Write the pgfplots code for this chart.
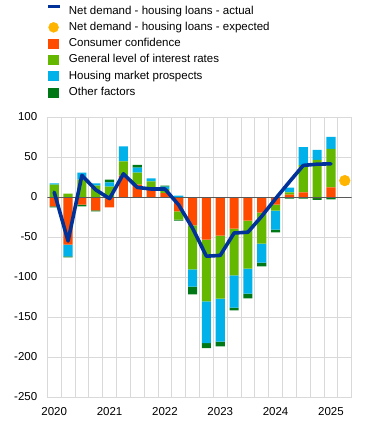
\documentclass[border=0pt]{standalone}
\usepackage{pgfplots}
\pgfplotsset{compat=1.18}
\usepackage{pgfplotstable}
\usepackage{fontspec}
\setmainfont{Liberation Sans}
\definecolor{cOrange}{HTML}{FF4B00}
\definecolor{cGreen}{HTML}{65B800}
\definecolor{cBlue}{HTML}{00B1EA}
\definecolor{cDark}{HTML}{007816}
\definecolor{cLine}{HTML}{003299}
\definecolor{cDot}{HTML}{FFB400}
\definecolor{cGrid}{HTML}{D9D9D9}

% x: quarter index (0 = 2020 Q1), O: consumer confidence, G: interest rates, B: housing market, D: other
\pgfplotstableread{
x O G B D
0 0 15.4 1.7 0
1 0 4.2 0 0
2 0 21.7 8.7 0
3 0 14.2 2.9 0
4 0 12.9 5.4 3.3
5 26.7 17.9 18.7 0
6 15.4 15 6.2 3.7
7 12.5 7 3.7 0
8 5 5 2.9 1.2
9 0 0 1.7 0
10 0 0 0 0
11 0 0 0 0
12 0 0 0 0
13 0 0 0 0
14 0 0 0 0
15 0 0 0 0
16 0 0 0 0
17 2.9 2.9 5.8 0
18 5.8 34 22.5 0
19 0 46.5 12.5 0
20 12 48.3 15 0
}\postab
\pgfplotstableread{
x O G B D
0 -11.7 0 0 -1.3
1 -59.6 0 -14.6 -1.3
2 -9.6 0 0 -2
3 -16.7 0 0 -1.2
4 -12.9 0 0 0
5 0 0 0 0
6 0 0 0 0
7 0 0 0 0
8 0 0 0 0
9 -18 -10.4 0 -1.2
10 -35.6 -54.8 -21.7 -9.6
11 -53.3 -77.1 -52.1 -6.5
12 -48.3 -78.7 -53.8 -5.9
13 -39.6 -58.3 -40.4 -3.4
14 -29.6 -60 -31.2 -5.9
15 -19.6 -38.7 -23.7 -4.7
16 -9.6 -7.5 -23.7 -3.3
17 0 0 0 -2
18 0 0 0 -2
19 -1.5 0 0 -2
20 0 0 0 -3
}\negtab
\pgfplotstableread{
x y
0 6
1 -55
2 27
3 9
4 -2
5 29
6 12
7 10
8 10
9 -10
10 -39
11 -74
12 -73
13 -45
14 -44
15 -24
16 -2
17 19
18 39.5
19 41
20 41.5
}\linetab

\pgfplotsset{
  base/.style={
    scale only axis, width=304.4pt, height=280pt,
    at={(0,0)}, anchor=south west,
    xmin=-0.5, xmax=21.5, ymin=-250, ymax=100,
    axis line style={draw=none},
    tick style={draw=none},
  },
  barst/.style={ybar stacked, bar width=0.66},
}

\begin{document}
\fontsize{11.5}{13.5}\selectfont
\begin{tikzpicture}
\useasboundingbox (-47.3pt,-27pt) rectangle (324.7pt,397pt);
% main axis: grid, ticks, legend, positive parts
\begin{axis}[base, barst,
  ytick={-250,-200,...,100},
  ymajorgrids,
  xtick={0,4,8,12,16,20},
  xticklabels={2020,2021,2022,2023,2024,2025},
  minor xtick={-0.5,0.5,...,21.5},
  xminorgrids, xmajorgrids=false,
  grid style={draw=cGrid, line width=0.9pt},
  minor grid style={draw=cGrid, line width=0.9pt},
  /pgf/number format/assume math mode=true,
  ticklabel style={font=\fontsize{11.5}{13.5}\selectfont},
  yticklabel style={xshift=-6pt},
  xticklabel style={yshift=-6pt},
  legend style={at={(rel axis cs:0,1)}, anchor=north west, xshift=0.7pt, yshift=114.3pt,
    draw=none, fill=none, inner sep=0pt, row sep=0pt,
    font=\fontsize{11.5}{13.5}\selectfont,
    nodes={inner sep=0pt, text height=8.3pt, text depth=2.4pt}},
  legend cell align=left,
]
\addlegendimage{legend image code/.code={\path[draw=none,fill=none] (0pt,-8.15pt) rectangle (20.5pt,8.15pt);\fill[cLine] (0pt,3.4pt) rectangle (10.5pt,6pt);}}
\addlegendentry{Net demand - housing loans - actual}
\addlegendimage{legend image code/.code={\path[draw=none,fill=none] (0pt,-8.15pt) rectangle (20.5pt,8.15pt);\fill[cDot] (5.2pt,0pt) circle (5pt);}}
\addlegendentry{Net demand - housing loans - expected}
\addplot[draw=none, fill=cOrange, legend image code/.code={\path[draw=none,fill=none] (0pt,-8.15pt) rectangle (20.5pt,8.15pt);\fill[cOrange] (0pt,-5pt) rectangle (10.5pt,5pt);}] table[x=x,y=O]{\postab};
\addlegendentry{Consumer confidence}
\addplot[draw=none, fill=cGreen, legend image code/.code={\path[draw=none,fill=none] (0pt,-8.15pt) rectangle (20.5pt,8.15pt);\fill[cGreen] (0pt,-5pt) rectangle (10.5pt,5pt);}] table[x=x,y=G]{\postab};
\addlegendentry{General level of interest rates}
\addplot[draw=none, fill=cBlue, legend image code/.code={\path[draw=none,fill=none] (0pt,-8.15pt) rectangle (20.5pt,8.15pt);\fill[cBlue] (0pt,-5pt) rectangle (10.5pt,5pt);}] table[x=x,y=B]{\postab};
\addlegendentry{Housing market prospects}
\addplot[draw=none, fill=cDark, legend image code/.code={\path[draw=none,fill=none] (0pt,-8.15pt) rectangle (20.5pt,8.15pt);\fill[cDark] (0pt,-5pt) rectangle (10.5pt,5pt);}] table[x=x,y=D]{\postab};
\addlegendentry{Other factors}
\end{axis}
% negative parts
\begin{axis}[base, barst, hide axis]
\addplot[draw=none, fill=cOrange] table[x=x,y=O]{\negtab};
\addplot[draw=none, fill=cGreen] table[x=x,y=G]{\negtab};
\addplot[draw=none, fill=cBlue] table[x=x,y=B]{\negtab};
\addplot[draw=none, fill=cDark] table[x=x,y=D]{\negtab};
\end{axis}
% zero line, net demand line and expectation
\begin{axis}[base, hide axis]
\addplot[draw=black!65, line width=0.9pt, forget plot] coordinates {(-0.5,0) (21.5,0)};
\addplot[cLine, line width=3.6pt, line join=round, line cap=round, mark=none] table[x=x,y=y]{\linetab};
\addplot[cDot, only marks, mark=*, mark size=5.3pt, mark options={solid, draw=cDot, fill=cDot, line width=0.6pt}] coordinates {(21,20.5)};
\end{axis}
\end{tikzpicture}
\end{document}
